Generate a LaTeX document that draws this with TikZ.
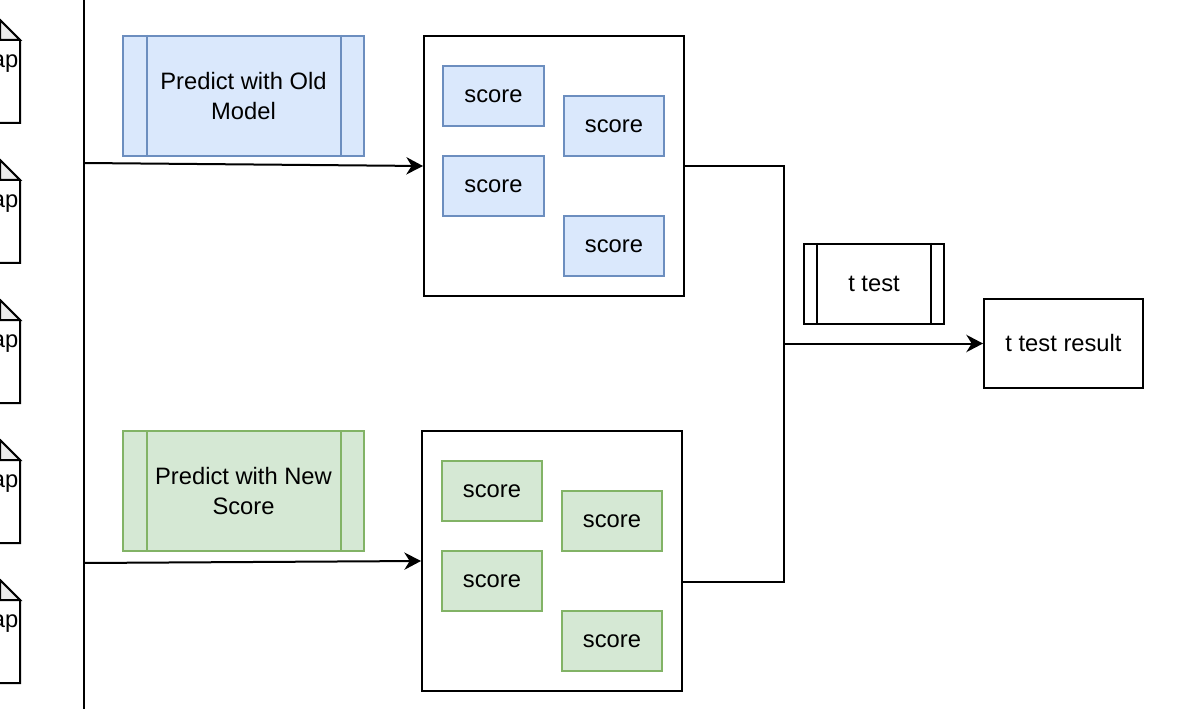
\documentclass[tikz,border=0pt]{standalone}
\usepackage{fontspec}
\setmainfont{Liberation Sans}
\usetikzlibrary{arrows.meta,fit,calc}
\definecolor{bluefill}{HTML}{DAE8FC}
\definecolor{bluedraw}{HTML}{6C8EBF}
\definecolor{greenfill}{HTML}{D5E8D4}
\definecolor{greendraw}{HTML}{82B366}
\definecolor{foldgray}{HTML}{EBEBEB}
\tikzset{
  line/.style={line width=1.5pt, draw=black},
  arr/.style={line width=1.5pt, -{Stealth[length=12.5pt,width=13pt,inset=4pt]}},
  plainbox/.style={draw=black, line width=1.5pt, fill=white, inner sep=0pt},
  bluebox/.style={draw=bluedraw, fill=bluefill, line width=1.5pt, inner sep=0pt, align=center},
  greenbox/.style={draw=greendraw, fill=greenfill, line width=1.5pt, inner sep=0pt, align=center},
  txt/.style={font=\fontsize{17.8}{22.1}\selectfont},
}
\begin{document}
\begin{tikzpicture}[x=0.75pt,y=-0.75pt,txt]
\useasboundingbox (0,0) rectangle (1195,709);
\clip (0,0) rectangle (1195,709);
\fill[white] (0,0) rectangle (1195,709);

% cut-off notes at left edge
\foreach \i in {0,...,4}{
  \pgfmathsetmacro{\yo}{20+140*\i}
  \filldraw[line, fill=white, line join=miter] (-80,\yo) -- (0,\yo) -- (20,\yo+20) -- (20,\yo+103) -- (-80,\yo+103) -- cycle;
  \filldraw[line, fill=foldgray, line join=miter] (0,\yo) -- (0,\yo+20) -- (20,\yo+20) -- cycle;
  \node[anchor=base east, inner sep=0pt] (note\i) at (18.5,\yo+47.5) {ap};
}

% vertical line
\coordinate (vt) at (84,-5);
\coordinate (vb) at (84,714);
\draw[line] (vt) -- (vb);

% process boxes
\node[bluebox, fit={(123,36) (364,156)}] (oldp) {};
\node[align=center] at (oldp.center) {Predict with Old\\Model};
\draw[draw=bluedraw, line width=1.5pt] ($(oldp.north west)+(25,0)$) -- ($(oldp.south west)+(25,0)$);
\draw[draw=bluedraw, line width=1.5pt] ($(oldp.north east)+(-24,0)$) -- ($(oldp.south east)+(-24,0)$);

\node[greenbox, fit={(123,431) (364,551)}] (newp) {};
\node[align=center] at (newp.center) {Predict with New\\Score};
\draw[draw=greendraw, line width=1.5pt] ($(newp.north west)+(25,0)$) -- ($(newp.south west)+(25,0)$);
\draw[draw=greendraw, line width=1.5pt] ($(newp.north east)+(-24,0)$) -- ($(newp.south east)+(-24,0)$);

% containers
\node[plainbox, fit={(424,36) (684,296)}] (topc) {};
\node[plainbox, fit={(422,431) (682,691)}] (botc) {};

% score boxes (top)
\node[bluebox, fit={(443,66) (544,126)}] (s1) {};
\node at (s1.center) {score};
\node[bluebox, fit={(564,96) (664,156)}] (s2) {};
\node at (s2.center) {score};
\node[bluebox, fit={(443,156) (544,216)}] (s3) {};
\node at (s3.center) {score};
\node[bluebox, fit={(564,216) (664,276)}] (s4) {};
\node at (s4.center) {score};

% score boxes (bottom)
\node[greenbox, fit={(442,461) (542,521)}] (g1) {};
\node at (g1.center) {score};
\node[greenbox, fit={(562,491) (662,551)}] (g2) {};
\node at (g2.center) {score};
\node[greenbox, fit={(442,551) (542,611)}] (g3) {};
\node at (g3.center) {score};
\node[greenbox, fit={(562,611) (662,671)}] (g4) {};
\node at (g4.center) {score};

% t test
\node[plainbox, fit={(804,244) (944,324)}] (tt) {};
\node at (tt.center) {t test};
\draw[line] ($(tt.north west)+(14,0)$) -- ($(tt.south west)+(14,0)$);
\draw[line] ($(tt.north east)+(-14,0)$) -- ($(tt.south east)+(-14,0)$);

\node[plainbox, fit={(984,299) (1143,388)}] (res) {};
\node at (res.center) {t test result};

% connectors
\coordinate (a1) at (84,163);
\coordinate (a2) at (84,563);
\draw[arr] (a1) -- (topc.west);
\draw[arr] (a2) -- (botc.west);

\coordinate (j) at (784,343.5);
\coordinate (bo) at (682,582);
\draw[line, line join=miter] (topc.east) -| (j);
\draw[line, line join=miter] (bo) -| (j);
\draw[arr] (j) -- (res.west);
\end{tikzpicture}
\end{document}
